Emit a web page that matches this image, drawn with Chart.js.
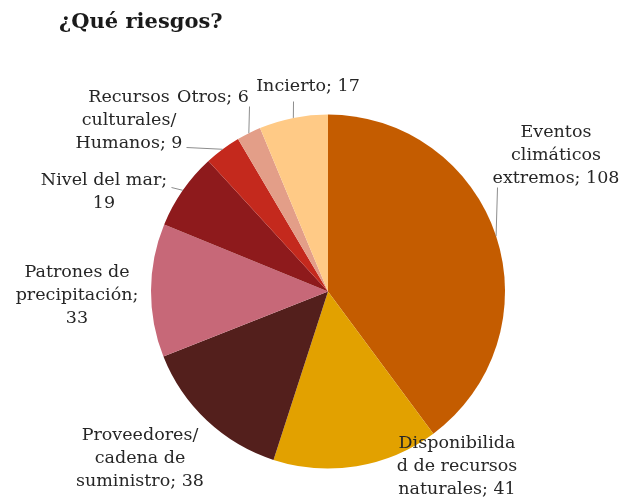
<!DOCTYPE html>
<html>
<head>
<meta charset="utf-8">
<script src="https://cdn.jsdelivr.net/npm/chart.js@4/dist/chart.umd.min.js"></script>
<style>
html,body{margin:0;padding:0;background:#fff;}
#wrap{width:625px;height:504px;position:relative;}
</style>
</head>
<body>
<div id="wrap"><canvas id="c" width="625" height="504"></canvas></div>
<script>
// ---- data ----
const title = "¿Qué riesgos?";
const categories = [
  "Eventos climáticos extremos",
  "Disponibilidad de recursos naturales",
  "Proveedores/ cadena de suministro",
  "Patrones de precipitación",
  "Nivel del mar",
  "Recursos culturales/ Humanos",
  "Otros",
  "Incierto"
];
const values = [108, 41, 38, 33, 19, 9, 6, 17];
// label text as wrapped in the original
const labelLines = [
  ["Eventos", "climáticos", "extremos; 108"],
  ["Disponibilida", "d de recursos", "naturales; 41"],
  ["Proveedores/", "cadena de", "suministro; 38"],
  ["Patrones de", "precipitación;", "33"],
  ["Nivel del mar;", "19"],
  ["Recursos", "culturales/", "Humanos; 9"],
  ["Otros; 6"],
  ["Incierto; 17"]
];

// ---- styles / layout ----
const colors = ["#C45C00", "#E2A100", "#531F1C", "#C76878", "#8E1A1C", "#C4291D", "#E39E88", "#FFCA86"];
// label anchor: centre x, first baseline y; leader: start point (end point is on arc mid-angle)
const labelLayout = [
  {x: 556, y: 137, leader: [497, 187]},
  {x: 457, y: 448, leader: null},
  {x: 140, y: 440, leader: null},
  {x: 77,  y: 277, leader: null},
  {x: 104, y: 185, leader: [171, 187]},
  {x: 129, y: 102, leader: [186, 147]},
  {x: 213, y: 102, leader: [249, 106]},
  {x: 308, y: 91,  leader: [293, 101]}
];
const lineHeight = 23;
const labelFont = "17.5px 'DejaVu Serif'";
const textColor = "#262626";

const labelPlugin = {
  id: 'labels',
  afterDraw(chart) {
    const ctx = chart.ctx;
    const meta = chart.getDatasetMeta(0);
    ctx.save();
    // title
    ctx.font = "bold 21px 'DejaVu Serif'";
    ctx.fillStyle = "#1a1a1a";
    ctx.textAlign = "left";
    ctx.textBaseline = "alphabetic";
    ctx.fillText(title, 59, 28);
    // leaders
    ctx.strokeStyle = "#8c8c8c";
    ctx.lineWidth = 1;
    meta.data.forEach((arc, i) => {
      const lay = labelLayout[i];
      if (!lay.leader) return;
      const p = arc.getProps(['x', 'y', 'startAngle', 'endAngle', 'outerRadius'], true);
      const mid = (p.startAngle + p.endAngle) / 2;
      const ex = p.x + Math.cos(mid) * p.outerRadius;
      const ey = p.y + Math.sin(mid) * p.outerRadius;
      ctx.beginPath();
      ctx.moveTo(lay.leader[0] + 0.5, lay.leader[1] + 0.5);
      ctx.lineTo(ex, ey);
      ctx.stroke();
    });
    // labels
    ctx.font = labelFont;
    ctx.fillStyle = textColor;
    ctx.textAlign = "center";
    labelLines.forEach((lines, i) => {
      const lay = labelLayout[i];
      lines.forEach((t, k) => ctx.fillText(t, lay.x, lay.y + k * lineHeight));
    });
    ctx.restore();
  }
};

new Chart(document.getElementById('c'), {
  type: 'pie',
  data: {
    labels: categories,
    datasets: [{
      data: values,
      backgroundColor: colors,
      borderWidth: 0
    }]
  },
  options: {
    responsive: false,
    animation: false,
    layout: {padding: {left: 151, right: 120, top: 114, bottom: 35}},
    plugins: {legend: {display: false}, tooltip: {enabled: false}, title: {display: false}}
  },
  plugins: [labelPlugin]
});
</script>
</body>
</html>
